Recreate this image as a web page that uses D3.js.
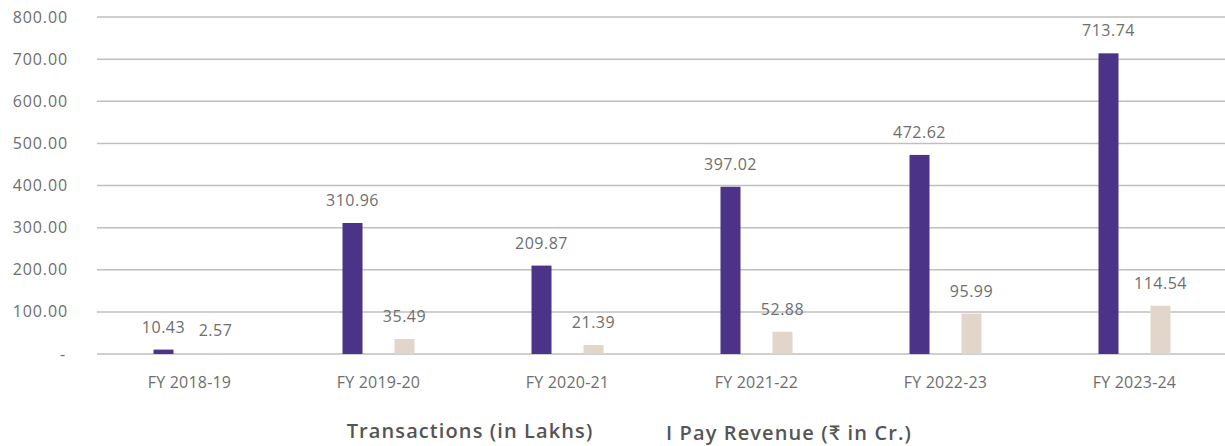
<!DOCTYPE html>
<html>
<head>
<meta charset="utf-8">
<script src="https://cdn.jsdelivr.net/npm/d3@7"></script>
<style>
  html, body { margin: 0; padding: 0; background: #fff; }
  svg { display: block; font-family: "Open Sans", "Lato", sans-serif; }
</style>
</head>
<body>
<svg id="chart" width="1225" height="446"></svg>
<script>
const categories = ["FY 2018-19", "FY 2019-20", "FY 2020-21", "FY 2021-22", "FY 2022-23", "FY 2023-24"];
const seriesNames = ["Transactions (in Lakhs)", "I Pay Revenue (₹ in Cr.)"];
const transactions = [10.43, 310.96, 209.87, 397.02, 472.62, 713.74];
const revenue = [2.57, 35.49, 21.39, 52.88, 95.99, 114.54];
const yTicks = [0, 100, 200, 300, 400, 500, 600, 700, 800];
const colors = ["#4b3487", "#e2d6cb"];

const seriesValues = [transactions, revenue];
const svg = d3.select("#chart");
const textGrey = "#6e6e6e";

const x = d3.scaleBand().domain(categories).range([95, 1229]);
const bw = x.bandwidth();
const xSub = d3.scaleBand().domain(seriesNames)
  .range([bw / 2 - 36, bw / 2 + 36]).paddingInner(32 / 52);
const y = d3.scaleLinear().domain([0, 800]).range([354, 17]);

// gridlines
svg.append("g").selectAll("line").data(yTicks).join("line")
  .attr("x1", 97).attr("x2", 1225)
  .attr("y1", d => y(d)).attr("y2", d => y(d))
  .attr("stroke", "#bfbfbf").attr("stroke-width", 1.5);

// y tick labels
svg.append("g").selectAll("text").data(yTicks).join("text")
  .attr("x", d => d === 0 ? 66 : 68)
  .attr("y", d => y(d) + 5.5)
  .attr("text-anchor", "end")
  .attr("fill", textGrey).attr("font-size", 16)
  .attr("letter-spacing", 0.9)
  .text(d => d === 0 ? "-" : d3.format(".2f")(d));

// bars and value labels
const groups = svg.append("g").selectAll("g").data(seriesNames).join("g")
  .attr("fill", (d, i) => colors[i]);
groups.each(function (name, si) {
  const vals = seriesValues[si];
  d3.select(this).selectAll("rect").data(categories).join("rect")
    .attr("x", (c) => x(c) + xSub(name))
    .attr("width", xSub.bandwidth())
    .attr("y", (c, i) => y(vals[i]))
    .attr("height", (c, i) => y(0) - y(vals[i]));
  d3.select(this.parentNode).append("g").selectAll("text").data(categories).join("text")
    .attr("x", (c) => x(c) + xSub(name) + xSub.bandwidth() / 2)
    .attr("y", (c, i) => y(vals[i]) - 17)
    .attr("text-anchor", "middle")
    .attr("fill", textGrey).attr("font-size", 16)
    .attr("letter-spacing", 0.5)
    .text((c, i) => d3.format(".2f")(vals[i]));
});

// category labels
svg.append("g").selectAll("text").data(categories).join("text")
  .attr("x", d => x(d) + bw / 2)
  .attr("y", 388)
  .attr("text-anchor", "middle")
  .attr("fill", textGrey).attr("font-size", 16)
  .attr("letter-spacing", 0.2)
  .text(d => d);

// legend
const legendX = [470, 789];
svg.append("g").selectAll("text").data(seriesNames).join("text")
  .attr("x", (d, i) => legendX[i])
  .attr("y", (d, i) => 438 + i * 2)
  .attr("text-anchor", "middle")
  .attr("fill", "#555").attr("font-size", 20).attr("font-weight", 600)
  .attr("letter-spacing", 1.1)
  .text(d => d);
</script>
</body>
</html>
